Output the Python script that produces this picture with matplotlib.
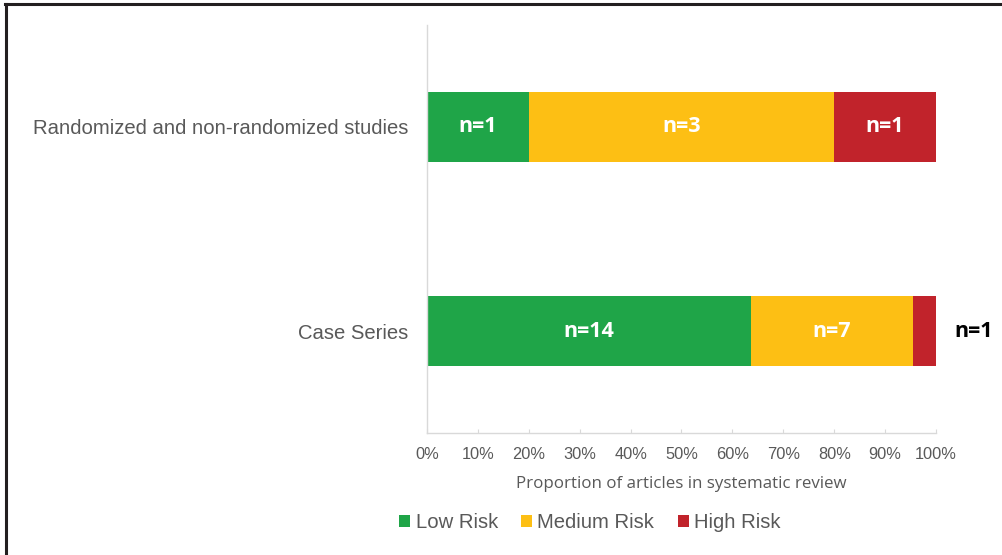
import matplotlib
matplotlib.use("Agg")
import matplotlib.pyplot as plt
from matplotlib.lines import Line2D
from matplotlib.patches import Patch

categories = ["Case Series", "Randomized and non-randomized studies"]
risk_levels = ["Low Risk", "Medium Risk", "High Risk"]
low_counts = [14, 1]
medium_counts = [7, 3]
high_counts = [1, 1]
xtick_labels = ["0%", "10%", "20%", "30%", "40%", "50%", "60%", "70%", "80%", "90%", "100%"]

colors = ["#1fa548", "#fdbf14", "#c1232b"]
label_gray = "#595959"
spine_gray = "#d9d9d9"

fig = plt.figure(figsize=(10.03, 5.55), dpi=100)
ax = fig.add_axes([0.4257, 0.2198, 0.5075, 0.7352])

counts = [low_counts, medium_counts, high_counts]
totals = [sum(c[i] for c in counts) for i in range(len(categories))]
ypos = list(range(len(categories)))
left = [0.0] * len(categories)
for level, series, col in zip(risk_levels, counts, colors):
    widths = [100.0 * v / t for v, t in zip(series, totals)]
    ax.barh(ypos, widths, left=left, height=0.34, color=col, label=level)
    for y, l, w, v in zip(ypos, left, widths, series):
        if w >= 10:
            ax.text(l + w / 2, y, f"n={v}", ha="center", va="center",
                    color="white", fontsize=15.5, fontweight="bold",
                    family="Open Sans")
        else:
            ax.text(l + w + 3.6, y, f"n={v}", ha="left", va="center",
                    color="black", fontsize=15.5, fontweight="bold",
                    family="Open Sans")
    left = [a + b for a, b in zip(left, widths)]

ax.set_xlim(0, 100)
ax.set_ylim(-0.5, 1.5)
ax.set_xticks(range(0, 101, 10))
ax.set_xticklabels(xtick_labels, family="Liberation Sans", fontsize=11.8,
                   color=label_gray)
ax.set_yticks(ypos)
ax.set_yticklabels(categories, family="Liberation Sans", fontsize=14.6,
                   color=label_gray)
ax.tick_params(axis="y", length=0, pad=13.5)
ax.tick_params(axis="x", direction="in", length=3, color=spine_gray, pad=10)
for side in ("top", "right"):
    ax.spines[side].set_visible(False)
for side in ("left", "bottom"):
    ax.spines[side].set_color(spine_gray)
    ax.spines[side].set_linewidth(1.0)

ax.set_xlabel("Proportion of articles in systematic review", family="Open Sans",
              fontsize=12.2, color=label_gray, labelpad=10)

handles = [Patch(facecolor=c, edgecolor="none") for c in colors]
fig.legend(handles, risk_levels, loc="center", bbox_to_anchor=(0.588, 0.058),
           ncol=3, frameon=False, prop={"family": "Liberation Sans", "size": 14.6},
           labelcolor=label_gray, handlelength=0.55, handleheight=0.55,
           handletextpad=0.25, columnspacing=1.15)

# Outer frame on the left and top edges
fig.add_artist(Line2D([0.0055, 0.0055], [0.0, 0.9928], transform=fig.transFigure,
                      color="#231f20", linewidth=2.2))
fig.add_artist(Line2D([0.0045, 1.0], [0.9928, 0.9928], transform=fig.transFigure,
                      color="#231f20", linewidth=2.2))

fig.savefig("out.png", dpi=100, facecolor="white")
